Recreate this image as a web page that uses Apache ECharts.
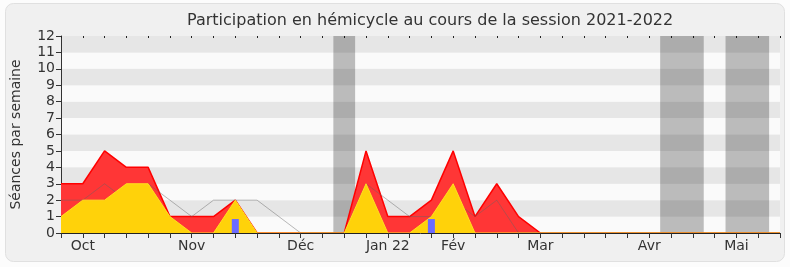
<!DOCTYPE html>
<html>
<head>
<meta charset="utf-8">
<script src="https://cdn.jsdelivr.net/npm/echarts@6/dist/echarts.min.js"></script>
<style>html,body{margin:0;padding:0;background:#fcfcfc;}#c{width:790px;height:267px;}</style>
</head>
<body>
<div id="c"></div>
<script>
// Week indices 0..33 of the session
const weeks = [0,1,2,3,4,5,6,7,8,9,10,11,12,13,14,15,16,17,18,19,20,21,22,23,24,25,26,27,28,29,30,31,32,33];
const monthTickWeeks = [1, 6, 11, 15, 18, 22, 27, 31];
const monthTickLabels = ['Oct', 'Nov', 'Déc', 'Jan 22', 'Fév', 'Mar', 'Avr', 'Mai'];
// Total presence (red)
const presence = [3,3,5,4,4,1,1,1,2,0,0,0,0,0,5,1,1,2,5,1,3,1,0,0,0,0,0,0,0,0,0,0,0,0];
// Hemicycle participation (yellow)
const participation = [1,2,2,3,3,1,0,0,2,0,0,0,0,0,3,0,0,1,3,0,0,0,0,0,0,0,0,0,0,0,0,0,0,0];
// Median reference (grey line)
const median = [2,2,3,2,3,2,1,2,2,2,1,0,0,0,3,2,1,1,2,1,2,0,0,0,0,0,0,0,0,0,0,0,0,0];
// Interventions (blue bars)
const interventionWeeks = [8, 17];
const interventionValues = [0.85, 0.85];
// Vacation bands [start, end] in week units
const vacationStart = [12.5, 27.5, 30.5];
const vacationEnd = [13.5, 29.5, 32.5];

const pairs = (arr) => weeks.map((w, i) => [w, arr[i]]);
const labelFor = {};
monthTickWeeks.forEach((w, i) => { labelFor[w] = monthTickLabels[i]; });

const chart = echarts.init(document.getElementById('c'), null, {renderer: 'canvas'});
const font = 'DejaVu Sans';
chart.setOption({
  backgroundColor: '#fcfcfc',
  animation: false,
  graphic: [{
    type: 'rect', z: -10, silent: true,
    shape: {x: 5.5, y: 3.5, width: 779, height: 258, r: 8},
    style: {fill: '#f0f0f0', stroke: '#e0e0e0', lineWidth: 1}
  }],
  title: {
    text: 'Participation en hémicycle au cours de la session 2021-2022',
    left: 182, top: 8,
    textStyle: {fontFamily: font, fontSize: 16, fontWeight: 'normal', color: '#333'}
  },
  grid: {left: 61, right: 10, top: 36, bottom: 34},
  xAxis: [{
    type: 'value', min: 0, max: 33, interval: 1, z: 10,
    axisLine: {show: true, lineStyle: {color: '#222'}},
    axisTick: {show: true, length: 5, lineStyle: {color: '#333'}},
    axisLabel: {
      fontFamily: font, fontSize: 14, color: '#333', margin: 6,
      formatter: (v) => labelFor[v] || '',
      showMinLabel: true, showMaxLabel: true
    },
    splitLine: {show: false}
  }, {
    type: 'value', min: 0, max: 33, interval: 1, position: 'top',
    axisLine: {show: false},
    axisTick: {show: true, inside: true, length: 2, lineStyle: {color: '#222'}},
    axisLabel: {show: false},
    splitLine: {show: false}
  }],
  yAxis: {
    type: 'value', min: 0, max: 12, interval: 1,
    name: 'Séances par semaine', nameLocation: 'middle', nameGap: 38,
    nameTextStyle: {fontFamily: font, fontSize: 14, color: '#333'},
    axisLine: {show: true, lineStyle: {color: '#333'}},
    axisTick: {show: true, length: 5, lineStyle: {color: '#333'}},
    axisLabel: {fontFamily: font, fontSize: 14, color: '#333', margin: 6},
    splitLine: {show: false},
    splitArea: {show: true, areaStyle: {color: ['#fafafa', '#e6e6e6']}}
  },
  series: [
    {
      type: 'line', data: [], z: 1, silent: true,
      markArea: {
        silent: true,
        itemStyle: {color: 'rgba(0,0,0,0.25)'},
        data: vacationStart.map((s, i) => [{xAxis: s}, {xAxis: vacationEnd[i]}])
      }
    },
    {
      type: 'line', data: pairs(presence), z: 2, symbol: 'none',
      lineStyle: {color: '#ff0000', width: 1.5},
      areaStyle: {color: '#ff3636', opacity: 1}
    },
    {
      type: 'line', data: pairs(median), z: 3, symbol: 'none',
      lineStyle: {color: 'rgba(100,100,100,0.45)', width: 1}
    },
    {
      type: 'line', data: pairs(participation), z: 4, symbol: 'none',
      lineStyle: {color: '#ffe020', width: 1},
      areaStyle: {color: '#ffd20a', opacity: 1}
    },
    {
      type: 'bar', data: interventionWeeks.map((w, i) => [w, interventionValues[i]]), z: 5,
      barWidth: 7, itemStyle: {color: '#6b6bff'}
    }
  ]
});
</script>
</body>
</html>
